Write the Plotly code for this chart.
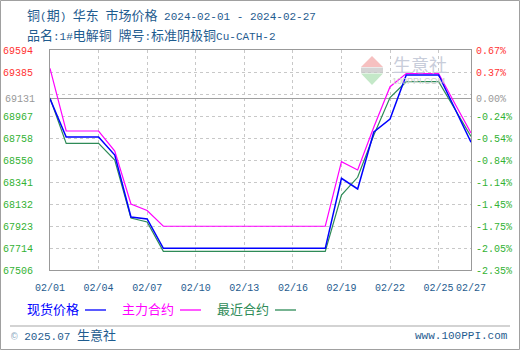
import plotly.graph_objects as go

# ---------------- data ----------------
dates = ["2024-02-01", "2024-02-02", "2024-02-03", "2024-02-04", "2024-02-05",
         "2024-02-06", "2024-02-07", "2024-02-08", "2024-02-09", "2024-02-10",
         "2024-02-11", "2024-02-12", "2024-02-13", "2024-02-14", "2024-02-15",
         "2024-02-16", "2024-02-17", "2024-02-18", "2024-02-19", "2024-02-20",
         "2024-02-21", "2024-02-22", "2024-02-23", "2024-02-24", "2024-02-25",
         "2024-02-26", "2024-02-27"]

spot_price = [69131, 68768, 68768, 68768, 68597, 68009, 67990, 67712, 67712, 67712,
              67712, 67712, 67712, 67712, 67712, 67712, 67712, 67712, 68376, 68275,
              68816, 68939, 69357, 69357, 69357, 69039, 68718]

main_contract = [69420, 68825, 68825, 68825, 68635, 68132, 68071, 67921, 67921, 67921,
                 67921, 67921, 67921, 67921, 67921, 67921, 67921, 67921, 68534, 68455,
                 68863, 69246, 69371, 69371, 69371, 69086, 68806]

nearest_contract = [69140, 68708, 68708, 68708, 68550, 67999, 67962, 67683, 67683, 67683,
                    67683, 67683, 67683, 67683, 67683, 67683, 67683, 67683, 68218, 68386,
                    68787, 69143, 69293, 69293, 69293, 69034, 68773]

base_price = 69131
y_min, y_max = 67506, 69594

left_tick_labels = ["69594", "69385", "69131", "68967", "68758", "68550",
                    "68341", "68132", "67923", "67714", "67506"]
right_tick_labels = ["0.67%", "0.37%", "0.00%", "-0.24%", "-0.54%", "-0.84%",
                     "-1.14%", "-1.45%", "-1.75%", "-2.05%", "-2.35%"]

x_tick_dates = ["2024-02-01", "2024-02-04", "2024-02-07", "2024-02-10", "2024-02-13",
                "2024-02-16", "2024-02-19", "2024-02-22", "2024-02-25", "2024-02-27"]
x_tick_labels = ["02/01", "02/04", "02/07", "02/10", "02/13",
                 "02/16", "02/19", "02/22", "02/25", "02/27"]

series_names = ["现货价格", "主力合约", "最近合约"]

# ---------------- styles ----------------
C_BLUE = "#0000ff"
C_MAG = "#ff00ff"
C_GREEN = "#2e8b57"
C_UP = "#ff3333"
C_BASE = "#999999"
C_DOWN = "#33b233"
C_TEXT = "#1f5c8f"
GRID = "#c8c8c8"
FRAME = "#999999"
MONO = "Liberation Mono, DejaVu Sans Mono, Noto Sans CJK SC, monospace"

W, H = 520, 350
L, R, T, B = 50, 471, 50, 270


def px(x):
    return (x - L) / (R - L)


def py(y):
    return (B - y) / (B - T)


def cjk(s, size=13):
    return f'<span style="font-size:{size}px">{s}</span>'


def col(s, c):
    return f'<span style="color:{c}">{s}</span>'


# grid positions (evenly spaced) and label positions
n = len(left_tick_labels)
grid_pos = [y_max - k * (y_max - y_min) / (n - 1) for k in range(n)]
base_idx = left_tick_labels.index(str(base_price))


def label_color(v):
    if abs(v - base_price) < 1e-6:
        return C_BASE
    return C_UP if v > base_price else C_DOWN


left_text = []
for k, (p, t) in enumerate(zip(grid_pos, left_tick_labels)):
    left_text.append("" if k == base_idx else col(t, label_color(p)))

label_pos = list(grid_pos)
label_pos[base_idx] = base_price
pct_pos = [(p / base_price - 1) * 100 for p in label_pos]
right_text = [col(t, label_color(p)) for p, t in zip(label_pos, right_tick_labels)]

pct_min = (y_min / base_price - 1) * 100
pct_max = (y_max / base_price - 1) * 100

fig = go.Figure()

# helper invisible traces so the overlay axes are drawn
fig.add_trace(go.Scatter(x=dates, y=[(v / base_price - 1) * 100 for v in spot_price],
                         yaxis="y2", mode="lines", line=dict(color="rgba(0,0,0,0)", width=0),
                         hoverinfo="skip", showlegend=False))
fig.add_trace(go.Scatter(x=dates, y=spot_price, yaxis="y3", mode="lines",
                         line=dict(color="rgba(0,0,0,0)", width=0),
                         hoverinfo="skip", showlegend=False))

fig.add_trace(go.Scatter(x=dates, y=nearest_contract, mode="lines", name=series_names[2],
                         line=dict(color=C_GREEN, width=1.2), hoverinfo="skip"))
fig.add_trace(go.Scatter(x=dates, y=main_contract, mode="lines", name=series_names[1],
                         line=dict(color=C_MAG, width=1.2), hoverinfo="skip"))
fig.add_trace(go.Scatter(x=dates, y=spot_price, mode="lines", name=series_names[0],
                         line=dict(color=C_BLUE, width=1.5), hoverinfo="skip"))

shapes = []
# outer border
shapes.append(dict(type="rect", xref="paper", yref="paper",
                   x0=px(0.5), x1=px(519.5), y0=py(0.5), y1=py(349.5),
                   line=dict(color="#a0a0a0", width=1), layer="below"))
# footer separator
shapes.append(dict(type="line", xref="paper", yref="paper",
                   x0=px(10), x1=px(510), y0=py(326), y1=py(326),
                   line=dict(color="#a8a8a8", width=1.2)))
# legend swatches
for (x0, x1), c in zip([(85, 106), (180, 201), (275, 296)], [C_BLUE, C_MAG, C_GREEN]):
    shapes.append(dict(type="line", xref="paper", yref="paper",
                       x0=px(x0), x1=px(x1), y0=py(310), y1=py(310),
                       line=dict(color=c, width=1.3)))
# watermark logo
shapes.append(dict(type="path", xref="paper", yref="paper", layer="below",
                   path=f"M {px(372)},{py(56)} L {px(383)},{py(67)} L {px(361)},{py(67)} Z",
                   fillcolor="#f6c0c0", line=dict(width=0)))
shapes.append(dict(type="rect", xref="paper", yref="paper", layer="below",
                   x0=px(361), x1=px(383), y0=py(73), y1=py(67.5),
                   fillcolor="#d4d4d4", line=dict(width=0)))
shapes.append(dict(type="path", xref="paper", yref="paper", layer="below",
                   path=f"M {px(361)},{py(73.5)} L {px(383)},{py(73.5)} L {px(372)},{py(85)} Z",
                   fillcolor="#c4e8c8", line=dict(width=0)))

ann = []
title1 = (cjk("铜") + "(" + cjk("期") + ") " + cjk("华东") + " " + cjk("市场价格")
          + " 2024-02-01 - 2024-02-27")
title2 = (cjk("品名") + ":1#" + cjk("电解铜") + " " + cjk("牌号") + ":" + cjk("标准阴极铜")
          + "Cu-CATH-2")
ann.append(dict(text=title1, x=px(25), y=py(15.5)))
ann.append(dict(text=title2, x=px(25), y=py(35.5)))
# legend texts
for xx, name, c in zip([25, 120, 215], series_names, [C_BLUE, C_MAG, C_GREEN]):
    ann.append(dict(text=cjk(name), x=px(xx), y=py(310), font=dict(color=c)))
# footer
ann.append(dict(text=col("©", "#8aa8c0") + " 2025.07 " + cjk("生意社"), x=px(9), y=py(336)))
ann.append(dict(text="www.100PPI.com", x=px(510), y=py(336), xanchor="right"))
# watermark text
ann.append(dict(text="生意社", x=px(391), y=py(63.5),
                font=dict(family="Noto Sans CJK SC", size=18, color="#c8cdda")))
ann.append(dict(text="100PPI.COM", x=px(390), y=py(81),
                font=dict(family="Liberation Sans, Noto Sans", size=9, color="#cfcfcf")))

annotations = []
for a in ann:
    d = dict(xref="paper", yref="paper", showarrow=False, xanchor="left", yanchor="middle",
             font=dict(family=MONO, size=11, color=C_TEXT))
    f = a.pop("font", None)
    d.update(a)
    if f:
        d["font"] = dict(d["font"], **f)
    annotations.append(d)

tickfont = dict(family=MONO, size=10, color=C_TEXT)

fig.update_layout(
    width=W, height=H,
    margin=dict(l=L, r=W - R, t=T, b=H - B, pad=0, autoexpand=False),
    paper_bgcolor="white", plot_bgcolor="white",
    showlegend=False,
    hovermode=False,
    xaxis=dict(type="date", range=[dates[0], dates[-1]], automargin=False,
               tickmode="array", tickvals=x_tick_dates, ticktext=x_tick_labels,
               tickangle=0,
               showgrid=True, gridcolor=GRID, griddash="3px,3px", gridwidth=1,
               showline=True, linecolor=FRAME, linewidth=1, mirror=True,
               ticks="", ticklabelstandoff=8, tickfont=tickfont, fixedrange=True,
               zeroline=False),
    yaxis=dict(range=[y_min, y_max], tickmode="array", tickvals=grid_pos, ticktext=left_text,
               automargin=False,
               showgrid=True, gridcolor=GRID, griddash="3px,3px", gridwidth=1,
               showline=True, linecolor=FRAME, linewidth=1, mirror=True,
               ticks="", ticklabelstandoff=14, tickfont=tickfont, fixedrange=True,
               zeroline=False),
    yaxis3=dict(range=[y_min, y_max], overlaying="y", side="left", anchor="x",
                automargin=False,
                tickmode="array", tickvals=[base_price],
                ticktext=[col(left_tick_labels[base_idx], C_BASE)],
                showgrid=False, showline=False, zeroline=False, ticks="",
                ticklabelstandoff=14, tickfont=tickfont, fixedrange=True),
    yaxis2=dict(range=[pct_min, pct_max], overlaying="y", side="right", anchor="x",
                automargin=False,
                tickmode="array", tickvals=pct_pos, ticktext=right_text,
                showgrid=False, showline=False, ticks="", ticklabelstandoff=4,
                zeroline=True, zerolinecolor="#a0a0a0", zerolinewidth=1.2,
                tickfont=tickfont, fixedrange=True),
    shapes=shapes,
    annotations=annotations,
)

fig.write_html("out.html", config={"displayModeBar": False, "staticPlot": True},
               post_script="document.body.style.margin='0';document.body.style.padding='0';")
